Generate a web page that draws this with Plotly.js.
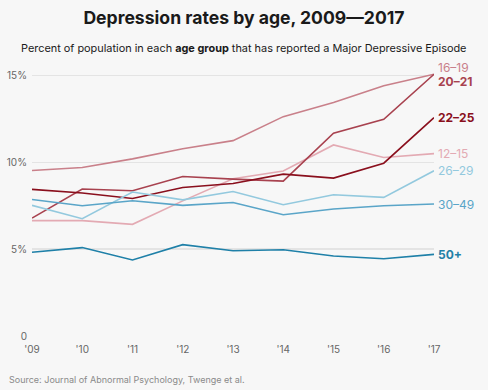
<!DOCTYPE html>
<html>
<head>
<meta charset="utf-8">
<script src="https://cdn.plot.ly/plotly-3.0.1.min.js"></script>
<style>
html,body{margin:0;padding:0;background:#f7f7f7;}
#chart{width:488px;height:390px;}
</style>
</head>
<body>
<div id="chart"></div>
<script>
const years = [2009, 2010, 2011, 2012, 2013, 2014, 2015, 2016, 2017];
const tickLabels = ["'09", "'10", "'11", "'12", "'13", "'14", "'15", "'16", "'17"];
const seriesNames = ["12–15", "16–19", "20–21", "22–25", "26–29", "30–49", "50+"];
const age12_15 = [6.64, 6.64, 6.43, 7.78, 9.05, 9.5, 11.0, 10.28, 10.5];
const age16_19 = [9.53, 9.70, 10.2, 10.78, 11.25, 12.63, 13.44, 14.41, 15.07];
const age20_21 = [6.79, 8.46, 8.36, 9.18, 9.03, 8.92, 11.68, 12.48, 15.07];
const age22_25 = [8.44, 8.23, 7.92, 8.55, 8.78, 9.32, 9.09, 9.95, 12.57];
const age26_29 = [7.52, 6.75, 8.29, 7.84, 8.32, 7.56, 8.13, 7.98, 9.51];
const age30_49 = [7.86, 7.50, 7.79, 7.52, 7.69, 6.98, 7.31, 7.50, 7.60];
const age50plus = [4.82, 5.09, 4.38, 5.26, 4.91, 4.97, 4.61, 4.45, 4.70];
const yTickVals = [0, 5, 10, 15];
const yTickText = ["0", "5%", "10%", "15%"];

const seriesData = [age12_15, age16_19, age20_21, age22_25, age26_29, age30_49, age50plus];
const colors = ["#e3aab3", "#c9808a", "#a8424f", "#8a0f1d", "#93c9de", "#5aa5c8", "#1f80a8"];
const bold = [false, false, true, true, false, false, true];
const labelShift = [0, 7, -7, 0, 0, 0, 0];

const traces = seriesData.map((vals, i) => ({
  x: years, y: vals, type: 'scatter', mode: 'lines', name: seriesNames[i],
  line: {color: colors[i], width: 1.6}, hoverinfo: 'skip', cliponaxis: false
}));

const annotations = seriesData.map((vals, i) => ({
  x: years[years.length - 1], y: vals[vals.length - 1], xref: 'x', yref: 'y',
  text: bold[i] ? '<b>' + seriesNames[i] + '</b>' : seriesNames[i],
  showarrow: false, xanchor: 'left', yanchor: 'middle', xshift: 3, yshift: labelShift[i],
  borderpad: 0,
  font: {family: 'Inter, sans-serif', size: 12, color: colors[i]}
}));

annotations.push({
  text: 'Percent of population in each <b>age group</b> that has reported a Major Depressive Episode',
  xref: 'paper', yref: 'paper', x: 0.5, y: 0, xanchor: 'center', yanchor: 'middle',
  showarrow: false, font: {family: 'Inter, sans-serif', size: 10.9, color: '#1a1a1a'}
});
annotations.push({
  text: 'Source: Journal of Abnormal Psychology, Twenge et al.',
  xref: 'paper', yref: 'paper', x: 0, y: 0, xanchor: 'left', yanchor: 'middle',
  showarrow: false, font: {family: 'Inter, sans-serif', size: 9, color: '#8a8a8a'}
});

const layout = {
  width: 488, height: 390,
  paper_bgcolor: '#f7f7f7', plot_bgcolor: '#f7f7f7',
  margin: {l: 32, r: 53.5, t: 72, b: 53.5},
  showlegend: false,
  title: {
    text: '<b>Depression rates by age, 2009—2017</b>',
    x: 0.5, xanchor: 'center', y: 0.955, yanchor: 'middle',
    font: {family: 'Inter, sans-serif', size: 17.6, color: '#1a1a1a'}
  },
  xaxis: {
    range: [2009, 2017], tickvals: years, ticktext: tickLabels,
    showgrid: false, zeroline: false, showline: false, ticks: '',
    tickfont: {family: 'Inter, sans-serif', size: 10, color: '#666'},
    ticklabelstandoff: 6, fixedrange: true
  },
  yaxis: {
    range: [0, 15.2], tickvals: yTickVals, ticktext: yTickText,
    showgrid: true, gridcolor: '#e4e4e4', gridwidth: 1.5, zeroline: false, showline: false, ticks: '',
    tickfont: {family: 'Inter, sans-serif', size: 10, color: '#666'},
    ticklabelstandoff: 4, fixedrange: true
  },
  annotations: annotations
};

const plotH = 390 - 72 - 53.5;
function pyToPaper(py) { return (390 - 53.5 - py) / plotH; }
const plotW = 488 - 32 - 53.5;
function pxToPaper(px) { return (px - 32) / plotW; }
annotations[annotations.length - 2].y = pyToPaper(48);
annotations[annotations.length - 2].x = pxToPaper(244);
annotations[annotations.length - 1].y = pyToPaper(380);
annotations[annotations.length - 1].x = pxToPaper(7);

Plotly.newPlot('chart', traces, layout, {displayModeBar: false, staticPlot: true});
</script>
</body>
</html>
